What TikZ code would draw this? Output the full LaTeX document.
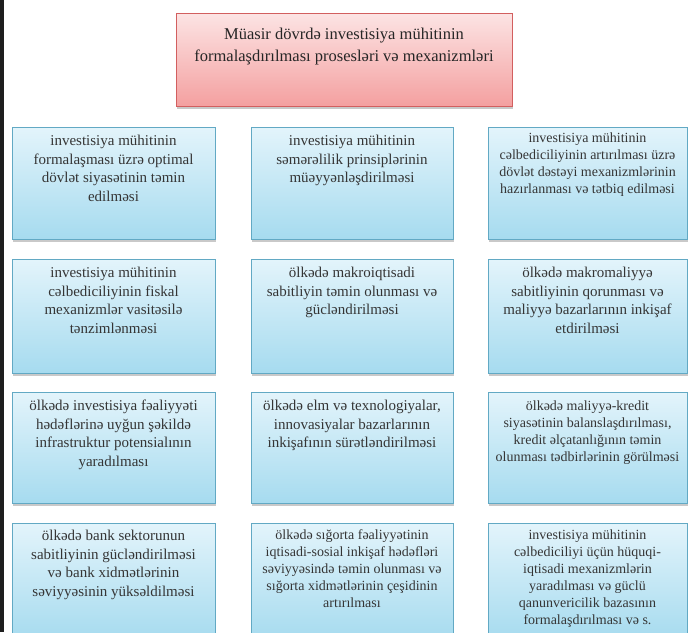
\documentclass[tikz,border=0pt]{standalone}
\usepackage{fontspec}
\setmainfont{Liberation Serif}
\usetikzlibrary{shadows}
\definecolor{txt}{HTML}{353535}
\definecolor{bluetop}{HTML}{E3F4FB}
\definecolor{bluebot}{HTML}{A6DBEF}
\definecolor{blueedge}{HTML}{62A9C4}
\definecolor{redtop}{HTML}{FCE4E4}
\definecolor{redbot}{HTML}{F4A0A0}
\definecolor{rededge}{HTML}{D25F5F}
\definecolor{rulecol}{HTML}{1E1E1E}
\tikzset{
  bluebox/.style={draw=blueedge, line width=0.8pt, top color=bluetop, bottom color=bluebot,
    drop shadow={shadow xshift=1pt, shadow yshift=-2.5pt, opacity=0.35, fill=black!60}},
  redbox/.style={draw=rededge, line width=0.8pt, top color=redtop, bottom color=redbot,
    drop shadow={shadow xshift=1pt, shadow yshift=-2.5pt, opacity=0.35, fill=black!60}},
  boxtext/.style={anchor=north, inner sep=0pt, align=center, text=txt,
    font=\fontsize{15pt}{18.5pt}\selectfont},
  tighttext/.style={anchor=north, inner sep=0pt, align=center, text=txt,
    font=\fontsize{14pt}{17pt}\selectfont},
  titletext/.style={anchor=north, inner sep=0pt, align=center, text=black!85,
    font=\fontsize{16.5pt}{22pt}\selectfont}
}
\begin{document}
\begin{tikzpicture}[x=1pt,y=-1pt]
\useasboundingbox (0,0) rectangle (688,632);
\fill[white] (0,0) rectangle (688,632);
\begin{scope}
\clip (0,0) rectangle (688,632);
% title
\path[redbox] (176,13) rectangle (512,106);
\node[titletext] (title) at (344,28) {Müasir dövrdə investisiya mühitinin\\formalaşdırılması prosesləri və mexanizmləri};
% boxes
\foreach \x/\X in {12/215,251/453,488/687.5}{
  \foreach \y/\Y in {127/239,259/373,392/503,523/640}{
    \path[bluebox] (\x,\y) rectangle (\X,\Y);
  }
}
\node[boxtext] (b11) at (113.5,135) {investisiya mühitinin\\formalaşması üzrə optimal\\dövlət siyasətinin təmin\\edilməsi};
\node[boxtext] (b12) at (352,135) {investisiya mühitinin\\səmərəlilik prinsiplərinin\\müəyyənləşdirilməsi};
\node[tighttext] (b13) at (587.5,133) {investisiya mühitinin\\cəlbediciliyinin artırılması üzrə\\dövlət dəstəyi mexanizmlərinin\\hazırlanması və tətbiq edilməsi};
\node[boxtext] (b21) at (113.5,267) {investisiya mühitinin\\cəlbediciliyinin fiskal\\mexanizmlər vasitəsilə\\tənzimlənməsi};
\node[boxtext] (b22) at (352,267) {ölkədə makroiqtisadi\\sabitliyin təmin olunması və\\gücləndirilməsi};
\node[boxtext] (b23) at (587.5,267) {ölkədə makromaliyyə\\sabitliyinin qorunması və\\maliyyə bazarlarının inkişaf\\etdirilməsi};
\node[boxtext] (b31) at (113.5,400) {ölkədə investisiya fəaliyyəti\\hədəflərinə uyğun şəkildə\\infrastruktur potensialının\\yaradılması};
\node[boxtext] (b32) at (352,400) {ölkədə elm və texnologiyalar,\\innovasiyalar bazarlarının\\inkişafının sürətləndirilməsi};
\node[tighttext] (b33) at (587.5,401) {ölkədə maliyyə-kredit\\siyasətinin balanslaşdırılması,\\kredit əlçatanlığının təmin\\olunması tədbirlərinin görülməsi};
\node[boxtext] (b41) at (113.5,530) {ölkədə bank sektorunun\\sabitliyinin gücləndirilməsi\\və bank xidmətlərinin\\səviyyəsinin yüksəldilməsi};
\node[tighttext] (b42) at (352,529) {ölkədə sığorta fəaliyyətinin\\iqtisadi-sosial inkişaf hədəfləri\\səviyyəsində təmin olunması və\\sığorta xidmətlərinin çeşidinin\\artırılması};
\node[tighttext] (b43) at (587.5,530) {investisiya mühitinin\\cəlbediciliyi üçün hüquqi-\\iqtisadi mexanizmlərin\\yaradılması və güclü\\qanunvericilik bazasının\\formalaşdırılması və s.};
\end{scope}
% left rule
\fill[rulecol] (0,0) rectangle (3.5,632);
\end{tikzpicture}
\end{document}
